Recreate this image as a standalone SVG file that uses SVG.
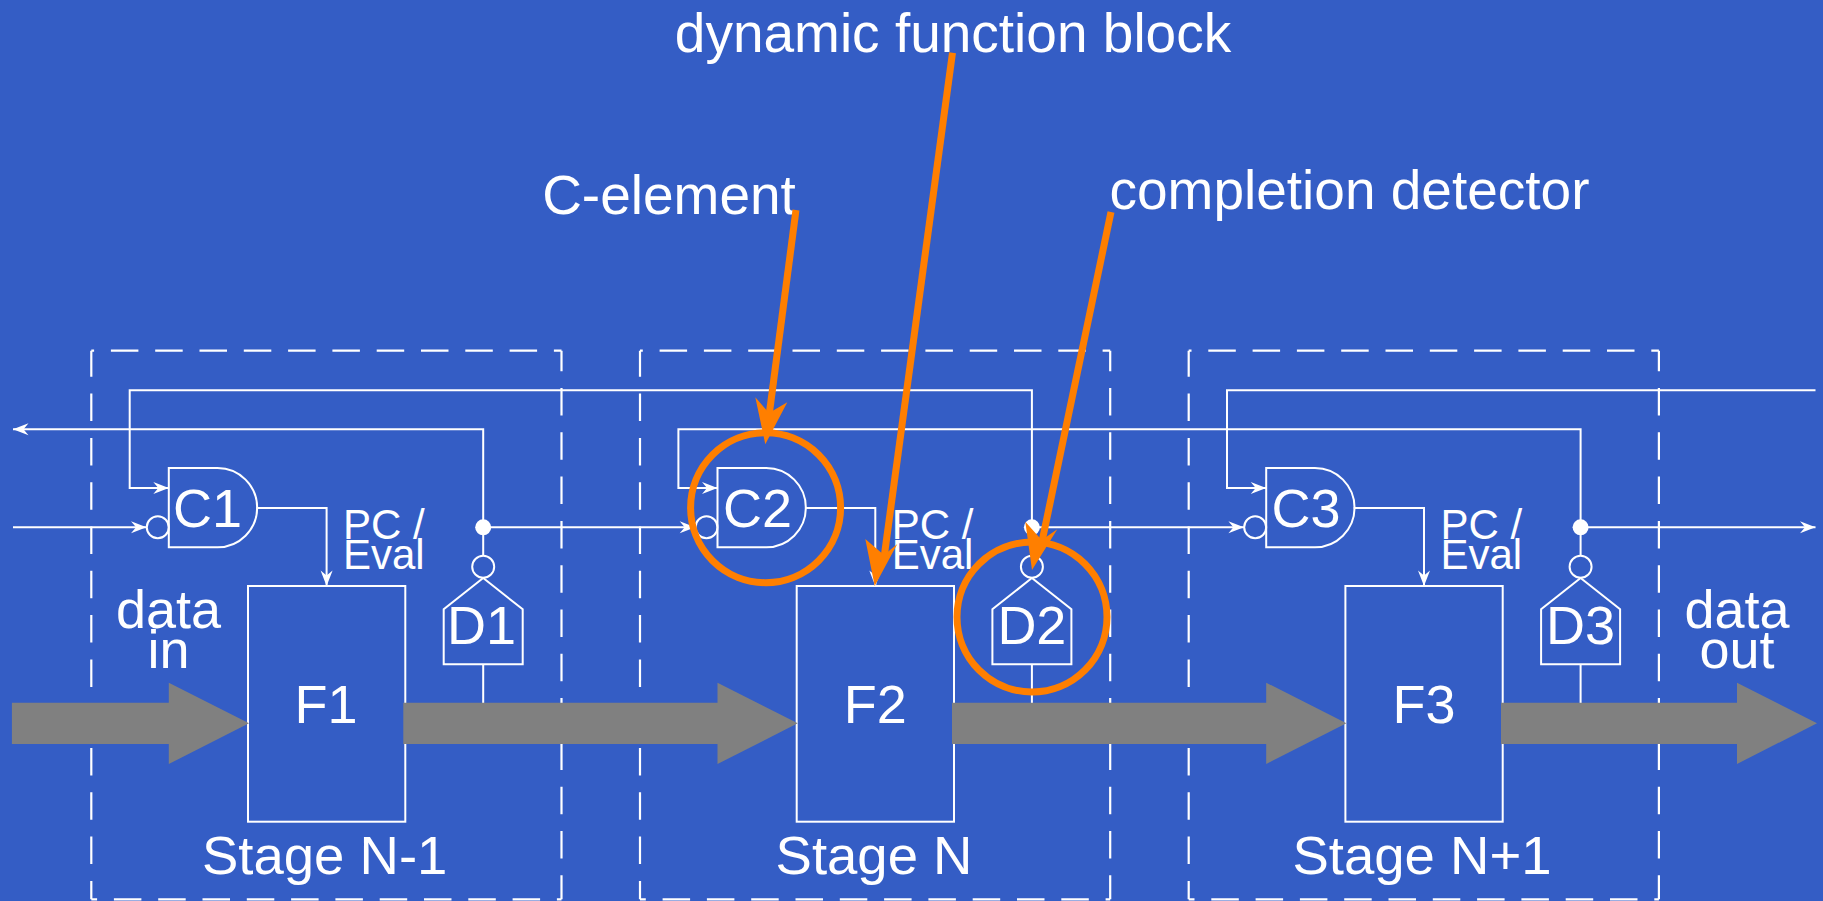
<svg xmlns="http://www.w3.org/2000/svg" width="1823" height="901" viewBox="0 0 1823 901">
<style>
text{font-family:"Liberation Sans",Arial,sans-serif;fill:#fff}
.t{font-size:55px}.u{font-size:54.5px}.n{font-size:54px}.m{text-anchor:middle}.s{font-size:42px}
.w{fill:none;stroke:#fff;stroke-width:2}
.d{stroke:#fff;stroke-width:2.2;stroke-dasharray:27.5 16.8;fill:none}
.o{fill:none;stroke:#ff7f00;stroke-width:7}
.g{fill:#808080}
</style>
<defs>
<marker id="a" markerUnits="userSpaceOnUse" markerWidth="18" markerHeight="14" refX="15.5" refY="6" orient="auto" overflow="visible"><path d="M0 0L15.5 6L0 12L5 6Z" fill="#fff"/></marker>
</defs>
<rect width="1823" height="901" fill="#345dc5"/>
<g id="stage-boxes">
<g id="stage-box-1"><line class="d" x1="91.3" y1="350.7" x2="561.5" y2="350.7" stroke-dashoffset="24.7"/><line class="d" x1="91.3" y1="350.7" x2="91.3" y2="899.3" stroke-dashoffset="1.4"/><line class="d" x1="561.5" y1="350.7" x2="561.5" y2="899.3" stroke-dashoffset="7"/><line class="d" x1="91.3" y1="899.3" x2="561.5" y2="899.3" stroke-dashoffset="21.7"/></g>
<g id="stage-box-2"><line class="d" x1="640" y1="350.7" x2="1110.2" y2="350.7" stroke-dashoffset="24.7"/><line class="d" x1="640" y1="350.7" x2="640" y2="899.3" stroke-dashoffset="1.4"/><line class="d" x1="1110.2" y1="350.7" x2="1110.2" y2="899.3" stroke-dashoffset="7"/><line class="d" x1="640" y1="899.3" x2="1110.2" y2="899.3" stroke-dashoffset="21.7"/></g>
<g id="stage-box-3"><line class="d" x1="1188.7" y1="350.7" x2="1658.9" y2="350.7" stroke-dashoffset="24.7"/><line class="d" x1="1188.7" y1="350.7" x2="1188.7" y2="899.3" stroke-dashoffset="1.4"/><line class="d" x1="1658.9" y1="350.7" x2="1658.9" y2="899.3" stroke-dashoffset="7"/><line class="d" x1="1188.7" y1="899.3" x2="1658.9" y2="899.3" stroke-dashoffset="21.7"/></g>
</g>
<g id="connectors">
<path class="w" d="M1031.9 527.3V390.3H129.7V488H168.8" marker-end="url(#a)"/>
<path class="w" d="M1815.5 390.3H1227V488H1266.2" marker-end="url(#a)"/>
<path class="w" d="M483.2 527.3V429.3H13" marker-end="url(#a)"/>
<path class="w" d="M1580.6 527.3V429.3H678.4V488H717.5" marker-end="url(#a)"/>
<path class="w" d="M13 527.3H146.5" marker-end="url(#a)"/>
<path class="w" d="M483.2 527.3H695.2" marker-end="url(#a)"/>
<path class="w" d="M1031.9 527.3H1243.9" marker-end="url(#a)"/>
<path class="w" d="M1580.6 527.3H1815.5" marker-end="url(#a)"/>
<path class="w" d="M256.2 508H326.6V586" marker-end="url(#a)"/>
<path class="w" d="M804.9 508H875.3V586" marker-end="url(#a)"/>
<path class="w" d="M1353.6 508H1424V586" marker-end="url(#a)"/>
<path class="w" d="M483.2 527.3V555.7M483.2 664.3V703M1031.9 527.3V555.7M1031.9 664.3V703M1580.6 527.3V555.7M1580.6 664.3V703"/>
<circle cx="483.2" cy="527.3" r="8" fill="#fff"/><circle cx="1031.9" cy="527.3" r="8" fill="#fff"/><circle cx="1580.6" cy="527.3" r="8" fill="#fff"/>
</g>
<g id="C1"><circle class="w" cx="157.8" cy="527.3" r="11"/><path class="w" d="M168.8 468H217.5A39.6 39.6 0 0 1 217.5 547.3H168.8Z"/><text class="n m" x="207.5" y="527">C1</text></g>
<g id="C2"><circle class="w" cx="706.5" cy="527.3" r="11"/><path class="w" d="M717.5 468H766.2A39.6 39.6 0 0 1 766.2 547.3H717.5Z"/><text class="n m" x="757.5" y="527">C2</text></g>
<g id="C3"><circle class="w" cx="1255.2" cy="527.3" r="11"/><path class="w" d="M1266.2 468H1314.9A39.6 39.6 0 0 1 1314.9 547.3H1266.2Z"/><text class="n m" x="1306" y="527">C3</text></g>
<g id="D1"><circle class="w" cx="483.2" cy="566.7" r="11"/><path class="w" d="M483.2 578L522.7 609.3V664.3H443.7V609.3Z"/><text class="n m" x="481.5" y="644">D1</text></g>
<g id="D2"><circle class="w" cx="1031.9" cy="566.7" r="11"/><path class="w" d="M1031.9 578L1071.4 609.3V664.3H992.4V609.3Z"/><text class="n m" x="1031.9" y="644">D2</text></g>
<g id="D3"><circle class="w" cx="1580.6" cy="566.7" r="11"/><path class="w" d="M1580.6 578L1620.1 609.3V664.3H1541.1V609.3Z"/><text class="n m" x="1580.6" y="644">D3</text></g>
<g id="F1"><rect class="w" x="248" y="586" width="157.3" height="235.7"/><text class="n m" x="326" y="723.3">F1</text></g>
<g id="F2"><rect class="w" x="796.7" y="586" width="157.3" height="235.7"/><text class="n m" x="875.3" y="723.3">F2</text></g>
<g id="F3"><rect class="w" x="1345.4" y="586" width="157.3" height="235.7"/><text class="n m" x="1424" y="723.3">F3</text></g>
<g id="data-arrows">
<path class="g" d="M11.9 702.7H168.8V682.7L249 723.3L168.8 764V744H11.9Z"/>
<path class="g" d="M403.3 702.7H717.5V682.7L797.7 723.3L717.5 764V744H403.3Z"/>
<path class="g" d="M952 702.7H1266.2V682.7L1346.4 723.3L1266.2 764V744H952Z"/>
<path class="g" d="M1501 702.7H1737V682.7L1817 723.3L1737 764V744H1501Z"/>
</g>
<g id="labels">
<text class="s" x="343" y="539">PC /</text><text class="s" x="343" y="569.3">Eval</text>
<text class="s" x="891.7" y="539">PC /</text><text class="s" x="891.7" y="569.3">Eval</text>
<text class="s" x="1440.4" y="539">PC /</text><text class="s" x="1440.4" y="569.3">Eval</text>
<text class="n m" x="168.6" y="628">data</text><text class="n m" x="168.6" y="668">in</text>
<text class="n m" x="1737" y="628">data</text><text class="n m" x="1737" y="668">out</text>
<text class="u m" x="324.7" y="874">Stage N-1</text><text class="u m" x="874" y="874">Stage N</text><text class="u m" x="1422" y="874">Stage N+1</text>
<text class="t m" x="953" y="52">dynamic function block</text>
<text class="t m" x="669" y="213.5">C-element</text>
<text class="t m" x="1349.5" y="209">completion detector</text>
</g>
<g id="callouts">
<circle class="o" cx="765.6" cy="507.7" r="75"/>
<circle class="o" cx="1032" cy="617" r="75"/>
<path class="o" d="M796 210L769 416"/><path fill="#ff7f00" d="M765.3 444.3L755.3 397.3L769 413L787.3 402.3Z"/>
<path class="o" d="M952.5 52.7L884 558"/><path fill="#ff7f00" d="M874.7 586L865.3 539L884 555L897.3 544Z"/>
<path class="o" d="M1111 212L1041.7 543"/><path fill="#ff7f00" d="M1032 570L1025.3 521.7L1041.7 540L1057.3 529.3Z"/>
</g>
</svg>
